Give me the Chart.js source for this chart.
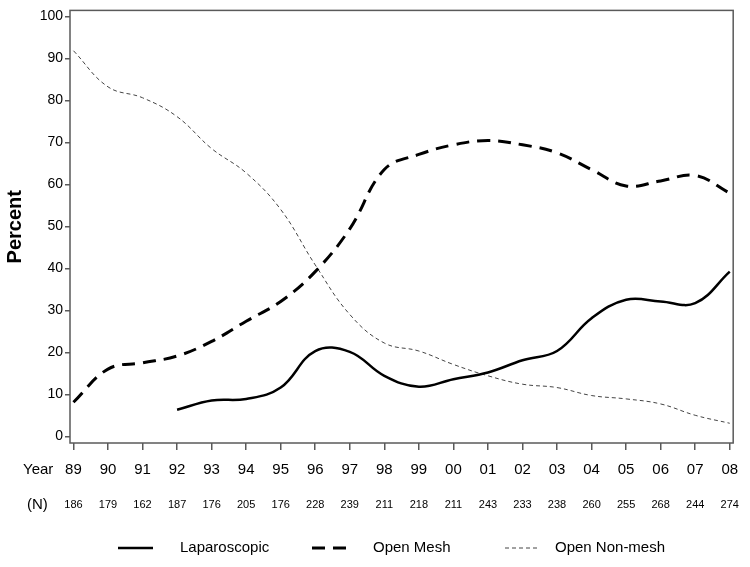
<!DOCTYPE html>
<html>
<head>
<meta charset="utf-8">
<script src="https://cdn.jsdelivr.net/npm/chart.js@4.4.1/dist/chart.umd.min.js"></script>
<style>
  html, body { margin: 0; padding: 0; background: #fff; }
  #wrap { width: 750px; height: 567px; position: relative; }
</style>
</head>
<body>
<div id="wrap"><canvas id="trendChart"></canvas></div>
<script>
// Data
const years = ["89", "90", "91", "92", "93", "94", "95", "96", "97", "98",
  "99", "00", "01", "02", "03", "04", "05", "06", "07", "08"];
const nCounts = [186, 179, 162, 187, 176, 205, 176, 228, 239, 211,
  218, 211, 243, 233, 238, 260, 255, 268, 244, 274];
const laparoscopic = [null, null, null, 6.3, 8.5, 8.9, 11.6, 20.3, 20.1, 14.4,
  11.8, 13.6, 15.2, 18.1, 20.3, 28.1, 32.5, 32.1, 31.7, 39.2];
const openMesh = [8.1, 16.0, 17.5, 19.1, 22.6, 27.4, 32.1, 39.2, 49.4, 63.5,
  67.1, 69.4, 70.4, 69.4, 67.5, 63.5, 59.6, 60.8, 62.1, 57.9];
const openNonMesh = [91.8, 83.2, 80.6, 76.1, 68.5, 62.7, 54.0, 40.8, 29.0, 22.2,
  20.3, 17.1, 14.4, 12.4, 11.6, 9.7, 8.9, 7.7, 5.0, 3.1];
const yTicks = [0, 10, 20, 30, 40, 50, 60, 70, 80, 90, 100];

const FONT = '"Liberation Sans", Arial, sans-serif';
const INK = "#000";
const FRAME = "#5a5a5a";

const toPoints = (arr) => arr.map((v, i) => ({ x: i, y: v }));
const idxTicks = (scale) => {
  scale.ticks = years.map((_, i) => ({ value: i }));
};

// legend slots: line start, line end, text x
const legendSlots = [
  [118, 153, 180],
  [312, 347, 373],
  [505, 538, 555],
];

// frame, row captions, legend
const decor = {
  id: "decor",
  afterDraw(chart) {
    const { ctx, chartArea: a } = chart;
    ctx.save();
    ctx.strokeStyle = FRAME;
    ctx.lineWidth = 1.5;
    ctx.strokeRect(a.left, a.top, a.right - a.left, a.bottom - a.top);

    ctx.fillStyle = INK;
    ctx.textBaseline = "middle";
    ctx.font = "15px " + FONT;
    ctx.fillText("Year", 23, 470);
    ctx.fillText("(N)", 27, 505);

    chart.data.datasets.forEach((ds, i) => {
      const [x0, x1, tx] = legendSlots[i];
      const y = 548;
      ctx.beginPath();
      ctx.strokeStyle = ds.borderColor;
      ctx.lineWidth = ds.borderWidth;
      ctx.setLineDash(ds.borderDash || []);
      ctx.moveTo(x0, y);
      ctx.lineTo(x1, y);
      ctx.stroke();
      ctx.setLineDash([]);
      ctx.fillStyle = INK;
      ctx.font = "15px " + FONT;
      ctx.fillText(ds.label, tx, y);
    });
    ctx.restore();
  },
};

new Chart(document.getElementById("trendChart").getContext("2d"), {
  type: "line",
  data: {
    datasets: [
      {
        label: "Laparoscopic",
        data: toPoints(laparoscopic),
        borderColor: "#000",
        borderWidth: 2.5,
        tension: 0.4,
      },
      {
        label: "Open Mesh",
        data: toPoints(openMesh),
        borderColor: "#000",
        borderWidth: 3,
        borderDash: [13, 8],
        tension: 0.4,
      },
      {
        label: "Open Non-mesh",
        data: toPoints(openNonMesh),
        borderColor: "#444",
        borderWidth: 1,
        borderDash: [4, 3],
        tension: 0.4,
      },
    ],
  },
  options: {
    responsive: true,
    maintainAspectRatio: false,
    animation: false,
    devicePixelRatio: 1,
    layout: { padding: { top: 6, right: 14, bottom: 50, left: 0 } },
    elements: { point: { radius: 0 } },
    plugins: { legend: { display: false }, tooltip: { enabled: false } },
    scales: {
      x: {
        type: "linear",
        position: "bottom",
        weight: 0,
        min: -0.1,
        max: 19.1,
        afterBuildTicks: idxTicks,
        afterFit: (s) => { s.height = 44; },
        border: { display: false },
        grid: { drawOnChartArea: false, tickLength: 7, color: FRAME, lineWidth: 1.5 },
        ticks: {
          padding: 11,
          color: INK,
          font: { family: FONT, size: 15 },
          maxRotation: 0,
          autoSkip: false,
          callback: (v) => years[v],
        },
      },
      xN: {
        type: "linear",
        position: "bottom",
        weight: 1,
        min: -0.1,
        max: 19.1,
        afterBuildTicks: idxTicks,
        afterFit: (s) => { s.height = 30; },
        border: { display: false },
        grid: { display: false, drawTicks: false },
        ticks: {
          padding: 11,
          color: INK,
          font: { family: FONT, size: 11 },
          maxRotation: 0,
          autoSkip: false,
          callback: (v) => nCounts[v],
        },
      },
      y: {
        min: -1.6,
        max: 101.4,
        afterBuildTicks: (s) => { s.ticks = yTicks.map((v) => ({ value: v })); },
        afterFit: (s) => { s.width = 70; },
        border: { display: false },
        grid: { drawOnChartArea: false, tickLength: 5, color: FRAME, lineWidth: 1.5 },
        ticks: { padding: 2, color: INK, font: { family: FONT, size: 14 } },
        title: {
          display: true,
          text: "Percent",
          color: INK,
          font: { family: FONT, size: 20, weight: "bold" },
          padding: { top: 3, bottom: 0 },
        },
      },
    },
  },
  plugins: [decor],
});
</script>
</body>
</html>
